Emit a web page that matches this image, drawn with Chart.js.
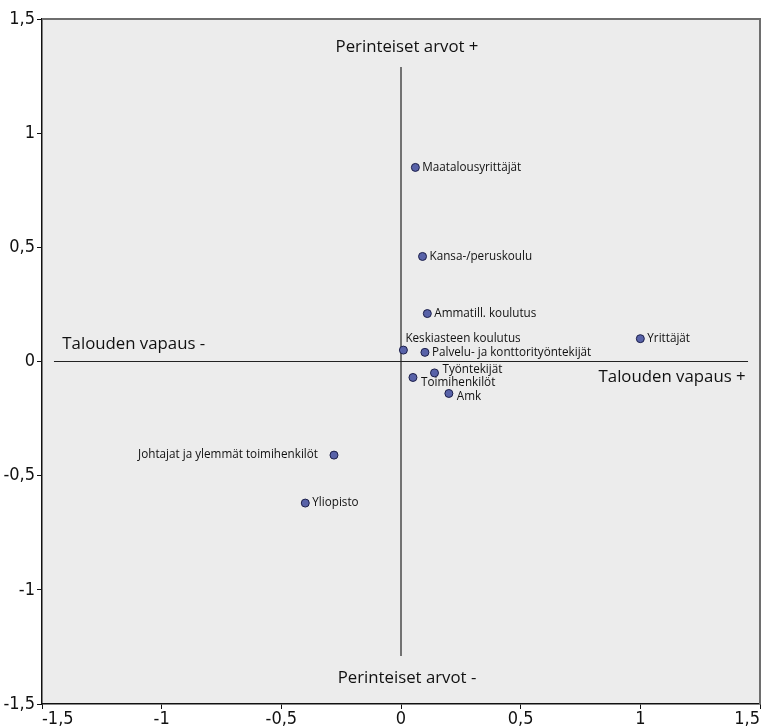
<!DOCTYPE html>
<html>
<head>
<meta charset="utf-8">
<script src="https://cdn.jsdelivr.net/npm/chart.js@4/dist/chart.umd.min.js"></script>
<style>
  html, body { margin: 0; padding: 0; background: #fff; }
  #wrap { width: 766px; height: 727px; }
</style>
</head>
<body>
<div id="wrap"><canvas id="kartta" width="766" height="727"></canvas></div>
<script>
// Ryhmät ja niiden sijainnit (x = talouden vapaus, y = perinteiset arvot)
const ryhmat = [
  "Maatalousyrittäjät", "Kansa-/peruskoulu", "Ammatill. koulutus",
  "Keskiasteen koulutus", "Palvelu- ja konttorityöntekijät", "Yrittäjät",
  "Työntekijät", "Toimihenkilöt", "Amk",
  "Johtajat ja ylemmät toimihenkilöt", "Yliopisto"
];
const xArvot = [0.06, 0.09, 0.11, 0.01, 0.10, 1.00, 0.14, 0.05, 0.20, -0.28, -0.40];
const yArvot = [0.85, 0.46, 0.21, 0.05, 0.04, 0.10, -0.05, -0.07, -0.14, -0.41, -0.62];

// Akselien tikit
const tikit = [-1.5, -1, -0.5, 0, 0.5, 1, 1.5];

// Keskiristin viivat
const vaakaViiva = [{ x: -1.45, y: 0 }, { x: 1.45, y: 0 }];
const pystyViiva = [{ x: 0, y: 1.29 }, { x: 0, y: -1.29 }];

// Nelikenttien otsikot
const nelikentat = ["Perinteiset arvot +", "Perinteiset arvot -", "Talouden vapaus -", "Talouden vapaus +"];
const nelikenttaX = [0.025, 0.025, -1.415, 1.44];
const nelikenttaY = [1.378, -1.385, 0.075, -0.07];

const pisteet = ryhmat.map((r, i) => ({ x: xArvot[i], y: yArvot[i] }));
const muotoile = v => String(v).replace(".", ",");

// Nimien sijoittelu pisteen suhteen (dx, dy, tasaus)
const sijoittelu = {
  "Keskiasteen koulutus": [2, -11, "left"],
  "Työntekijät": [8, -3, "left"],
  "Toimihenkilöt": [8, 5, "left"],
  "Amk": [8, 3, "left"],
  "Johtajat ja ylemmät toimihenkilöt": [-16, 0, "right"]
};

const tausta = {
  id: "tausta",
  beforeDraw(chart) {
    const { ctx, chartArea: a } = chart;
    ctx.save();
    ctx.fillStyle = "#ececec";
    ctx.fillRect(a.left, a.top, a.right - a.left, a.bottom - a.top);
    ctx.restore();
  },
  afterDraw(chart) {
    const { ctx, chartArea: a } = chart;
    ctx.save();
    ctx.strokeStyle = "#6e6e6e";
    ctx.lineWidth = 2;
    ctx.beginPath();
    ctx.moveTo(a.left, a.top);
    ctx.lineTo(a.right, a.top);
    ctx.lineTo(a.right, a.bottom);
    ctx.stroke();
    ctx.restore();
  }
};

const nimet = {
  id: "nimet",
  afterDatasetsDraw(chart) {
    const { ctx, scales } = chart;
    ctx.save();
    ctx.fillStyle = "#111";
    ctx.textBaseline = "middle";
    ctx.font = "11.7px 'Open Sans', sans-serif";
    ryhmat.forEach((r, i) => {
      const px = scales.x.getPixelForValue(xArvot[i]);
      const py = scales.y.getPixelForValue(yArvot[i]);
      const s = sijoittelu[r] || [7, 0, "left"];
      ctx.textAlign = s[2];
      ctx.fillText(r, px + s[0], py + s[1]);
    });
    ctx.font = "16.8px 'Open Sans', sans-serif";
    nelikentat.forEach((t, i) => {
      const px = scales.x.getPixelForValue(nelikenttaX[i]);
      const py = scales.y.getPixelForValue(nelikenttaY[i]);
      ctx.textAlign = i === 2 ? "left" : i === 3 ? "right" : "center";
      ctx.fillText(t, px, py);
    });
    ctx.restore();
  }
};

const tikkiFontti = { family: "'Liberation Sans Narrow', 'DejaVu Sans Condensed', sans-serif", size: 18 };

new Chart(document.getElementById("kartta"), {
  type: "scatter",
  data: {
    datasets: [
      {
        data: vaakaViiva, type: "line", showLine: true, pointRadius: 0,
        borderColor: "#222", borderWidth: 1.2, order: 2
      },
      {
        data: pystyViiva, type: "line", showLine: true, pointRadius: 0,
        borderColor: "#222", borderWidth: 1.2, order: 2
      },
      {
        data: pisteet, pointRadius: 4, pointHoverRadius: 4,
        backgroundColor: "#5862a8", borderColor: "#1c1f4a", borderWidth: 1, order: 1
      }
    ]
  },
  options: {
    responsive: false,
    animation: false,
    layout: { padding: { top: 19, right: 6, left: 0, bottom: 0 } },
    plugins: { legend: { display: false }, tooltip: { enabled: false } },
    scales: {
      x: {
        type: "linear", min: -1.5, max: 1.5,
        afterBuildTicks: s => { s.ticks = tikit.map(v => ({ value: v })); },
        afterFit: s => { s.height = 23; s.paddingLeft = 0; s.paddingRight = 0; },
        grid: { display: true, drawOnChartArea: false, drawTicks: true, tickLength: 5, color: "#111" },
        border: { color: "#111", width: 1.5 },
        ticks: { color: "#111", font: tikkiFontti, padding: 0, maxRotation: 0, align: "inner", callback: muotoile }
      },
      y: {
        type: "linear", min: -1.5, max: 1.5,
        afterBuildTicks: s => { s.ticks = tikit.map(v => ({ value: v })); },
        afterFit: s => { s.width = 42; s.paddingTop = 0; s.paddingBottom = 0; },
        grid: { display: true, drawOnChartArea: false, drawTicks: true, tickLength: 5, color: "#111" },
        border: { color: "#111", width: 1.5 },
        ticks: { color: "#111", font: tikkiFontti, padding: 2, callback: muotoile }
      }
    }
  },
  plugins: [tausta, nimet]
});
</script>
</body>
</html>
